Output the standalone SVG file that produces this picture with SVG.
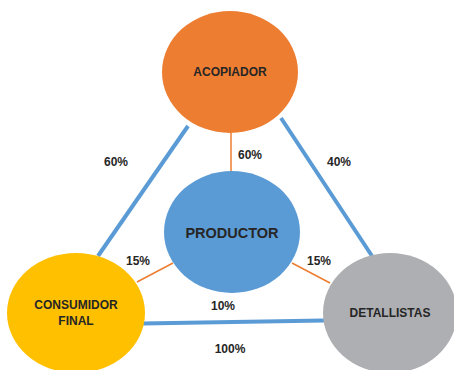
<svg xmlns="http://www.w3.org/2000/svg" width="454" height="370" viewBox="0 0 454 370">
<style>
.lbl{font-family:"Liberation Sans",Arial,sans-serif;font-weight:bold;font-size:12px;fill:#262626;text-anchor:middle;dominant-baseline:central}
.blue{stroke:#5B9BD5;stroke-width:4;fill:none}
.org{stroke:#ED7D31;stroke-width:1.5;fill:none}
</style>
<rect width="454" height="370" fill="#ffffff"/>
<g id="connectors">
<line class="blue" x1="188" y1="126" x2="98" y2="256"/>
<line class="blue" x1="281" y1="118" x2="372" y2="256"/>
<line class="blue" x1="142" y1="323.5" x2="324" y2="320.5"/>
<line class="org" x1="231" y1="133" x2="231" y2="173"/>
<line class="org" x1="137" y1="282" x2="173" y2="263"/>
<line class="org" x1="292" y1="263" x2="330" y2="283"/>
<text class="lbl" x="116" y="162">60%</text>
<text class="lbl" x="339" y="162">40%</text>
<text class="lbl" x="250" y="155">60%</text>
<text class="lbl" x="138" y="261">15%</text>
<text class="lbl" x="319" y="261">15%</text>
<text class="lbl" x="223" y="306">10%</text>
<text class="lbl" x="230" y="349">100%</text>
</g>
<g id="acopiador">
<ellipse cx="230" cy="72" rx="68" ry="61" fill="#ED7D31"/>
<text class="lbl" x="230" y="72">ACOPIADOR</text>
</g>
<g id="productor">
<ellipse cx="232" cy="232" rx="68" ry="61" fill="#5B9BD5"/>
<text class="lbl" x="232" y="233" style="font-size:14.5px">PRODUCTOR</text>
</g>
<g id="consumidor">
<ellipse cx="76" cy="313" rx="69" ry="60" fill="#FFC000"/>
<text class="lbl" x="76" y="305">CONSUMIDOR</text>
<text class="lbl" x="76" y="321">FINAL</text>
</g>
<g id="detallistas">
<ellipse cx="390" cy="313" rx="67" ry="60" fill="#AEAFB2"/>
<text class="lbl" x="390" y="313">DETALLISTAS</text>
</g>
</svg>
